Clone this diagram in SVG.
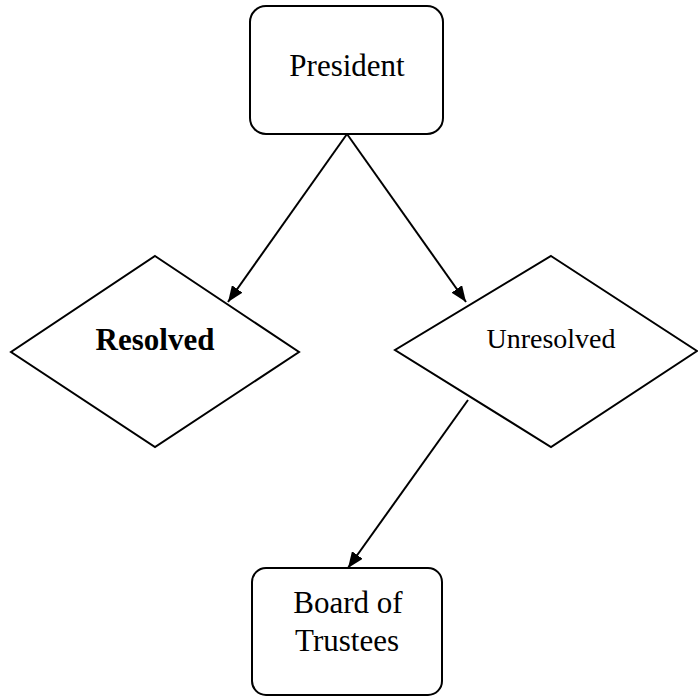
<svg xmlns="http://www.w3.org/2000/svg" width="698" height="698" viewBox="0 0 698 698">
<defs>
<marker id="arr" markerUnits="userSpaceOnUse" markerWidth="16" markerHeight="13" refX="16" refY="6.5" orient="auto">
<path d="M0,0 L16,6.5 L0,13 z" fill="#000"/>
</marker>
<style>
.box{fill:#fff;stroke:#000;stroke-width:2}
.t{font-family:"Liberation Serif","Times New Roman",serif;fill:#000;text-anchor:middle}
.c{stroke:#000;stroke-width:2;fill:none;marker-end:url(#arr)}
</style>
</defs>
<rect width="698" height="698" fill="#fff"/>
<g id="connectors">
<line class="c" x1="347" y1="134" x2="228" y2="302"/>
<line class="c" x1="347" y1="134" x2="466" y2="302"/>
<line class="c" x1="468" y1="400" x2="348" y2="568"/>
</g>
<g id="president">
<rect class="box" x="250" y="6" width="193" height="128" rx="16"/>
<text class="t" x="347" y="76" font-size="31">President</text>
</g>
<g id="resolved">
<polygon class="box" points="155,256 299,352 155,447 11,352"/>
<text class="t" x="155" y="350" font-size="31" font-weight="bold">Resolved</text>
</g>
<g id="unresolved">
<polygon class="box" points="551,256 697,351 551,447 395,350"/>
<text class="t" x="551" y="348" font-size="28">Unresolved</text>
</g>
<g id="board">
<rect class="box" x="252" y="568" width="190" height="127" rx="14"/>
<text class="t" x="348" y="613" font-size="31">Board of</text>
<text class="t" x="347" y="651" font-size="31">Trustees</text>
</g>
</svg>
